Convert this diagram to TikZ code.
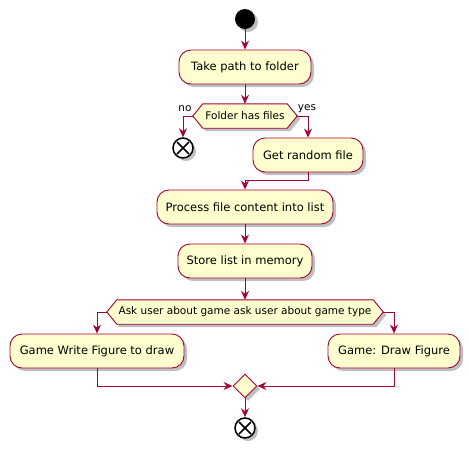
\documentclass[tikz,border=0pt]{standalone}
\usepackage{fontspec}
\setmainfont{DejaVu Sans}
\usetikzlibrary{arrows.meta,shadows,calc,shapes.geometric}
\definecolor{pfill}{HTML}{FEFECE}
\definecolor{pline}{HTML}{A80036}
\begin{document}
\begin{tikzpicture}[x=1pt,y=-1pt,
  shad/.style={drop shadow={shadow xshift=3pt,shadow yshift=-3pt,opacity=0.25,fill=black}},
  act/.style={draw=pline,fill=pfill,line width=0.9pt,rounded corners=12pt,minimum height=34pt,inner xsep=0pt,shad,font=\fontsize{11.5}{13}\selectfont},
  dec/.style={rectangle,draw=none,minimum height=24pt,inner sep=0pt,font=\fontsize{10.5}{12}\selectfont},
  hexa/.style={draw=pline,fill=pfill,line width=0.9pt,shad},
  arr/.style={draw=pline,line width=0.9pt,-{Stealth[length=9pt,width=8pt,inset=3pt]}},
  startc/.style={circle,fill=black,minimum size=20pt,inner sep=0pt,shad},
  endc/.style={circle,draw=black,fill=white,line width=1.5pt,minimum size=20pt,inner sep=0pt,shad},
  merge/.style={diamond,draw=pline,fill=pfill,line width=0.9pt,minimum width=24pt,minimum height=24pt,inner sep=0pt,shad},
  lbl/.style={font=\fontsize{10.5}{12}\selectfont,inner sep=0pt}
]
\useasboundingbox (0,0) rectangle (469,448);

\node[startc] (start) at (245,19) {};
\node[act,minimum width=132pt] (take) at (245,67) {Take path to folder};

\node[dec,minimum width=104pt] (d1) at (245,116) {Folder has files};
\draw[hexa] ([xshift=10pt]d1.north west) -- ([xshift=-10pt]d1.north east) -- (d1.east) -- ([xshift=-10pt]d1.south east) -- ([xshift=10pt]d1.south west) -- (d1.west) -- cycle;
\node[dec,minimum width=104pt] at (d1) {Folder has files};

\node[lbl] (no) at (185,109) {no};
\node[lbl] (yes) at (307,109) {yes};

\node[endc] (end1) at (183,148) {};
\draw[line width=1.5pt] ($(end1)+(-6,-6)$) -- ($(end1)+(6,6)$) ($(end1)+(-6,6)$) -- ($(end1)+(6,-6)$);

\node[act,minimum width=110pt] (rand) at (308,155) {Get random file};
\node[act,minimum width=176pt] (proc) at (245,207) {Process file content into list};
\node[act,minimum width=134pt] (store) at (245,261) {Store list in memory};

\node[dec,minimum width=276pt] (d2) at (245,312) {Ask user about game ask user about game type};
\draw[hexa] ([xshift=10pt]d2.north west) -- ([xshift=-10pt]d2.north east) -- (d2.east) -- ([xshift=-10pt]d2.south east) -- ([xshift=10pt]d2.south west) -- (d2.west) -- cycle;
\node[dec,minimum width=276pt] at (d2) {Ask user about game ask user about game type};

\node[act,minimum width=174pt] (gw) at (97,351) {Game Write Figure to draw};
\node[act,minimum width=132pt] (gd) at (394,351) {Game: Draw Figure};

\node[merge] (m) at (245,386) {};
\node[endc] (end2) at (245,428) {};
\draw[line width=1.5pt] ($(end2)+(-6,-6)$) -- ($(end2)+(6,6)$) ($(end2)+(-6,6)$) -- ($(end2)+(6,-6)$);

\draw[arr] (start) -- (take);
\draw[arr] (take.south) -- (d1.north);
\draw[arr] (d1.west) -| (end1.north);
\draw[arr] (d1.east) -| (rand.north);
\draw[arr] (rand.south) -- ++(0,8) -| (proc.north);
\draw[arr] (proc) -- (store);
\draw[arr] (store.south) -- (d2.north);
\draw[arr] (d2.west) -| (gw.north);
\draw[arr] (d2.east) -| (gd.north);
\draw[arr] (gw.south) |- (m.west);
\draw[arr] (gd.south) |- (m.east);
\draw[arr] (m.south) -- (end2.north);
\end{tikzpicture}
\end{document}
